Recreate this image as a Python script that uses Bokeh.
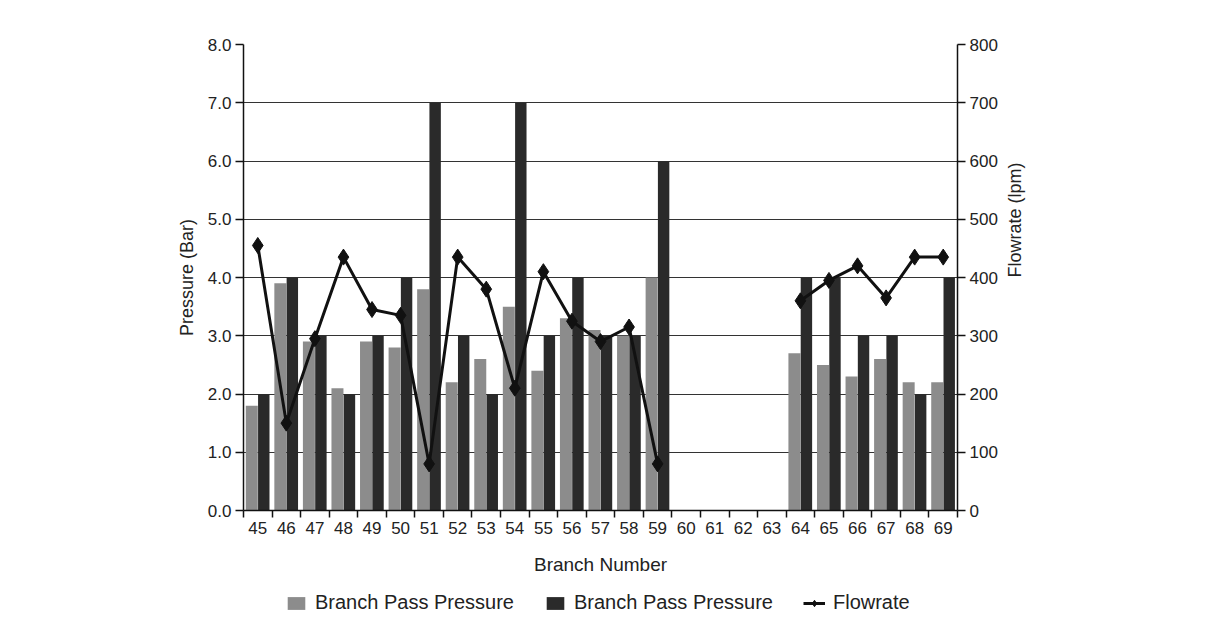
import math
import numpy as np
from bokeh.plotting import figure
from bokeh.layouts import column
from bokeh.models import (ColumnDataSource, Range1d, LinearAxis, FixedTicker,
                          Legend, LegendItem, NumeralTickFormatter)
from bokeh.transform import dodge
from bokeh.embed import file_html
from bokeh.resources import INLINE

branches = list(range(45, 70))
pressure_a = [1.8, 3.9, 2.9, 2.1, 2.9, 2.8, 3.8, 2.2, 2.6, 3.5, 2.4, 3.3, 3.1, 3.0, 4.0,
              None, None, None, None, 2.7, 2.5, 2.3, 2.6, 2.2, 2.2]
pressure_b = [2.0, 4.0, 3.0, 2.0, 3.0, 4.0, 7.0, 3.0, 2.0, 7.0, 3.0, 4.0, 3.0, 3.0, 6.0,
              None, None, None, None, 4.0, 4.0, 3.0, 3.0, 2.0, 4.0]
flowrate = [455, 150, 295, 435, 345, 335, 80, 435, 380, 210, 410, 325, 290, 315, 80,
            None, None, None, None, 360, 395, 420, 365, 435, 435]
legend_labels = ["Branch Pass Pressure", "Branch Pass Pressure", "Flowrate"]

FONT = "Liberation Sans"
TXT = "#222222"
C_A = "#8c8c8c"
C_B = "#2a2a2a"
C_F = "#111111"

src = ColumnDataSource(dict(
    x=np.array(branches, dtype=float),
    a=np.array(pressure_a, dtype=float),
    b=np.array(pressure_b, dtype=float),
    f=np.array(flowrate, dtype=float),
))

p = figure(width=1202, height=585, output_backend="svg", toolbar_location=None,
           x_range=Range1d(44.5, 69.5), y_range=Range1d(0, 8),
           min_border_left=243, min_border_right=245, min_border_top=44, min_border_bottom=75)
p.extra_y_ranges = {"flow": Range1d(0, 800)}
p.outline_line_color = None
p.background_fill_color = "white"

ra = p.vbar(x=dodge("x", -0.21), top="a", width=0.42, source=src, fill_color=C_A,
            line_color=None)
rb = p.vbar(x=dodge("x", 0.21), top="b", width=0.40, source=src, fill_color=C_B,
            line_color=None)

rl = p.line(x="x", y="f", source=src, y_range_name="flow", line_color=C_F,
            line_width=3)
rm = p.scatter(x="x", y="f", source=src, y_range_name="flow", marker="diamond",
               size=16, fill_color=C_F, line_color=C_F)

# grid
p.xgrid.grid_line_color = None
p.ygrid.grid_line_color = "#333333"
p.ygrid.grid_line_width = 1.2
p.ygrid.ticker = FixedTicker(ticks=list(range(0, 9)))

# x axis
xa = p.xaxis[0]
xa.ticker = FixedTicker(ticks=branches, minor_ticks=[b - 0.5 for b in branches] + [69.5])
xa.major_tick_line_color = None
xa.minor_tick_out = 7
xa.minor_tick_in = 0
xa.minor_tick_line_color = "#111111"
xa.minor_tick_line_width = 1.5
xa.axis_line_color = "#111111"
xa.axis_line_width = 1.5
xa.major_label_standoff = 4
xa.axis_label = "Branch Number"
xa.axis_label_standoff = 17
xa.axis_label_text_font = FONT
xa.axis_label_text_font_size = "19px"
xa.axis_label_text_font_style = "normal"
xa.axis_label_text_color = TXT
xa.major_label_text_font = FONT
xa.major_label_text_font_size = "17px"
xa.major_label_text_color = TXT

# left axis
ya = p.yaxis[0]
ya.ticker = FixedTicker(ticks=list(range(0, 9)))
ya.formatter = NumeralTickFormatter(format="0.0")
ya.minor_tick_line_color = None
ya.major_tick_out = 8
ya.major_tick_in = 0
ya.major_tick_line_color = "#111111"
ya.major_tick_line_width = 1.5
ya.axis_line_color = "#111111"
ya.axis_line_width = 1.5
ya.major_label_standoff = 4
ya.axis_label = "Pressure (Bar)"
ya.axis_label_standoff = 8
ya.axis_label_text_font = FONT
ya.axis_label_text_font_size = "18px"
ya.axis_label_text_font_style = "normal"
ya.axis_label_text_color = TXT
ya.major_label_text_font = FONT
ya.major_label_text_font_size = "17px"
ya.major_label_text_color = TXT

# right axis
ax2 = LinearAxis(y_range_name="flow", ticker=FixedTicker(ticks=list(range(0, 900, 100))))
ax2.minor_tick_line_color = None
ax2.major_tick_out = 8
ax2.major_tick_in = 0
ax2.major_tick_line_color = "#111111"
ax2.major_tick_line_width = 1.5
ax2.axis_line_color = "#111111"
ax2.axis_line_width = 1.5
ax2.major_label_standoff = 4
ax2.axis_label = "Flowrate (lpm)"
ax2.axis_label_standoff = 14
ax2.axis_label_orientation = math.pi / 2
ax2.axis_label_text_font = FONT
ax2.axis_label_text_font_size = "18px"
ax2.axis_label_text_font_style = "normal"
ax2.axis_label_text_color = TXT
ax2.major_label_text_font = FONT
ax2.major_label_text_font_size = "17px"
ax2.major_label_text_color = TXT
p.add_layout(ax2, "right")

# legend strip (separate small figure; its frame is aligned with the main frame)
q = figure(width=1202, height=35, output_backend="svg", toolbar_location=None,
           x_range=Range1d(0, 1), y_range=Range1d(0, 1), x_axis_type=None, y_axis_type=None,
           min_border=0)
q.outline_line_color = None
q.grid.grid_line_color = None
# hidden copies of the series: only their legend swatches are shown
la = q.vbar(x="x", top="a", width=0.42, source=src, fill_color=C_A, line_color=None,
            visible=False)
lb = q.vbar(x="x", top="b", width=0.40, source=src, fill_color=C_B, line_color=None,
            visible=False)
ll = q.line(x="x", y="f", source=src, line_color=C_F, line_width=3, visible=False)
lm = q.scatter(x="x", y="f", source=src, marker="diamond", size=14,
               fill_color=C_F, line_color=C_F, visible=False)

legend = Legend(items=[
    LegendItem(label=legend_labels[0], renderers=[la]),
    LegendItem(label=legend_labels[1], renderers=[lb]),
    LegendItem(label=legend_labels[2], renderers=[ll, lm]),
], orientation="horizontal", location=(42, 6), border_line_color=None,
   background_fill_alpha=0, label_text_font=FONT, label_text_font_size="20px",
   label_text_color=TXT, glyph_width=22, glyph_height=16, spacing=30,
   label_standoff=8, padding=0, margin=0, inactive_fill_alpha=0)
q.add_layout(legend, "center")

open("out.html", "w").write(file_html(column(p, q, spacing=0), INLINE))
